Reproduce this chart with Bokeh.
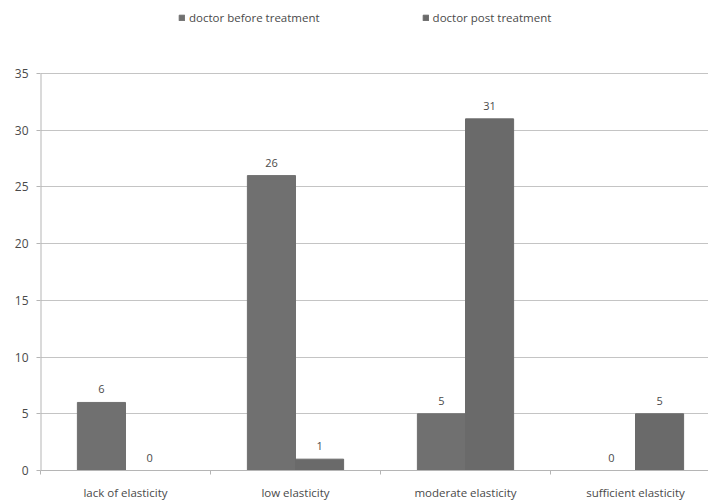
from bokeh.plotting import figure
from bokeh.models import Range1d, FixedTicker, Legend, LegendItem, ColumnDataSource
from bokeh.core.properties import value
from bokeh.embed import file_html
from bokeh.resources import INLINE

categories = ["lack of elasticity", "low elasticity", "moderate elasticity", "sufficient elasticity"]
before = [6, 26, 5, 0]
post = [0, 1, 31, 5]
series_names = ["doctor before treatment", "doctor post treatment"]
y_ticks = [0, 5, 10, 15, 20, 25, 30, 35]
y_max = 35

FONT = "Open Sans"
TXT = "#4a4a4a"
AX = "#b5b5b5"
C1 = "#707070"
C2 = "#6a6a6a"
BW = 0.283

centers = [i + 0.5 for i in range(len(categories))]

# frame spans the full top of the page; the value axis stops at 35
p = figure(width=708, height=502, output_backend="svg", toolbar_location=None,
           x_range=Range1d(0, 668 / 170), y_range=Range1d(0, 35 + 73 / (397 / 35)),
           min_border_left=40, min_border_right=0, min_border_top=0, min_border_bottom=32)
p.outline_line_color = None
p.background_fill_color = "white"
p.border_fill_color = "white"

src1 = ColumnDataSource(dict(x=[c - BW / 2 for c in centers], top=before, lab=[str(v) for v in before]))
src2 = ColumnDataSource(dict(x=[c + BW / 2 for c in centers], top=post, lab=[str(v) for v in post]))
r1 = p.vbar(x="x", top="top", width=BW, source=src1, fill_color=C1, line_color=C1)
r2 = p.vbar(x="x", top="top", width=BW, source=src2, fill_color=C2, line_color=C2)

for s in (src1, src2):
    p.text(x="x", y="top", text="lab", source=s, text_align="center", text_baseline="middle",
           y_offset=-13, text_font=value(FONT), text_font_size="11px", text_color=TXT)

# value axis line (only up to the top tick)
p.segment(x0=[0], y0=[0], x1=[0], y1=[y_max], line_color=AX, line_width=2)

# axes
p.yaxis.ticker = FixedTicker(ticks=y_ticks)
p.yaxis.minor_tick_line_color = None
p.yaxis.major_tick_in = 0
p.yaxis.major_tick_out = 4
p.yaxis.major_tick_line_color = AX
p.yaxis.axis_line_color = None
p.yaxis.major_label_standoff = 8
p.yaxis.major_label_text_font = FONT
p.yaxis.major_label_text_font_size = "12px"
p.yaxis.major_label_text_color = TXT

p.xaxis.ticker = FixedTicker(ticks=centers, minor_ticks=[0, 1, 2, 3])
p.xaxis.major_label_overrides = {c: lab for c, lab in zip(centers, categories)}
p.xaxis.major_tick_line_color = None
p.xaxis.major_tick_out = 0
p.xaxis.major_tick_in = 0
p.xaxis.minor_tick_in = 0
p.xaxis.minor_tick_out = 4
p.xaxis.minor_tick_line_color = AX
p.xaxis.axis_line_color = AX
p.xaxis.major_label_standoff = 10
p.xaxis.major_label_text_font = FONT
p.xaxis.major_label_text_font_size = "11.5px"
p.xaxis.major_label_text_color = TXT

p.xgrid.grid_line_color = None
p.ygrid.grid_line_color = "#c4c4c4"
p.ygrid.ticker = FixedTicker(ticks=y_ticks[1:])

legend = Legend(items=[LegendItem(label=series_names[0], renderers=[r1]),
                       LegendItem(label=series_names[1], renderers=[r2])],
                orientation="horizontal", location=(138, 445),
                glyph_width=7, glyph_height=7, label_standoff=4, spacing=102,
                label_text_font=FONT, label_text_font_size="11.5px", label_text_color=TXT,
                border_line_color=None, background_fill_alpha=0, padding=0, margin=0)
p.add_layout(legend)

open("out.html", "w").write(file_html(p, INLINE))
